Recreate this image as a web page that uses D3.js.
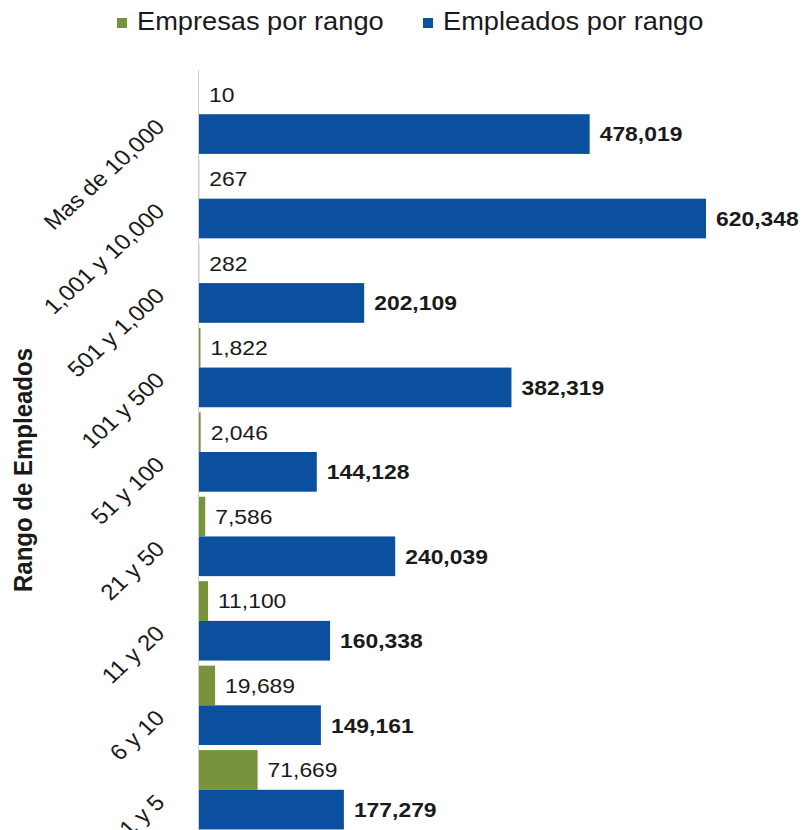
<!DOCTYPE html>
<html>
<head>
<meta charset="utf-8">
<script src="https://cdn.jsdelivr.net/npm/d3@7"></script>
<style>
  html, body { margin: 0; padding: 0; background: #fff; }
  svg { display: block; font-family: "Liberation Sans", Arial, sans-serif; }
</style>
</head>
<body>
<svg id="chart" width="804" height="830"></svg>
<script>
// Categories, top to bottom
const categories = ["Mas de 10,000", "1,001 y 10,000", "501 y 1,000", "101 y 500",
  "51 y 100", "21 y 50", "11 y 20", "6 y 10", "1 y 5"];
// Number of companies in each range
const empresas = [10, 267, 282, 1822, 2046, 7586, 11100, 19689, 71669];
// Number of employees in each range
const empleados = [478019, 620348, 202109, 382319, 144128, 240039, 160338, 149161, 177279];
const seriesNames = ["Empresas por rango", "Empleados por rango"];
const seriesColors = ["#77933C", "#0B4F9F"];

const svg = d3.select("#chart");
const SX = 1.09;           // slight horizontal widening of the typeface
const textColor = "#1a1a1a";

const x = d3.scaleLinear()
  .domain([0, d3.max(empleados)])
  .range([199, 706]);

const y = d3.scaleBand()
  .domain(categories)
  .range([72, 832])
  .paddingInner(0.06)
  .paddingOuter(0.03);

const inner = d3.scaleBand()
  .domain([0, 1])
  .range([0, y.bandwidth()])
  .padding(0);

const fmt = d3.format(",");

const rows = categories.map((c, i) => ({ cat: c, vals: [empresas[i], empleados[i]] }));

// Bars
const groups = svg.append("g").selectAll("g")
  .data(rows)
  .join("g")
  .attr("transform", d => `translate(0,${y(d.cat)})`);

groups.selectAll("rect")
  .data(d => d.vals.map((v, s) => ({ v, s })))
  .join("rect")
  .attr("x", x(0))
  .attr("y", d => inner(d.s))
  .attr("width", d => Math.max(0, x(d.v) - x(0)))
  .attr("height", inner.bandwidth())
  .attr("fill", d => seriesColors[d.s]);

// Value labels
groups.selectAll("text")
  .data(d => d.vals.map((v, s) => ({ v, s })))
  .join("text")
  .attr("transform", d => `translate(${x(d.v) + 10},${inner(d.s) + inner.bandwidth() / 2}) scale(${SX},1)`)
  .attr("dy", "0.35em")
  .attr("font-size", 21)
  .attr("font-weight", d => d.s === 1 ? "bold" : "normal")
  .attr("fill", textColor)
  .text(d => fmt(d.v));

// Category axis line
svg.append("line")
  .attr("x1", x(0) - 0.5).attr("x2", x(0) - 0.5)
  .attr("y1", 70).attr("y2", 830)
  .attr("stroke", "#d0d0d0")
  .attr("stroke-width", 1);

// Rotated category labels
svg.append("g").selectAll("text")
  .data(categories)
  .join("text")
  .attr("transform", d => `translate(166,${y(d) + y.bandwidth() / 2 + 14}) scale(${SX},1) rotate(-45)`)
  .attr("text-anchor", "end")
  .attr("font-size", 22)
  .attr("fill", textColor)
  .text(d => d);

// Axis title
svg.append("text")
  .attr("transform", `translate(32,470) scale(${SX},1) rotate(-90)`)
  .attr("text-anchor", "middle")
  .attr("font-size", 24)
  .attr("font-weight", "bold")
  .attr("fill", textColor)
  .text("Rango de Empleados");

// Legend
const legendX = [117, 423];
const legend = svg.append("g").selectAll("g")
  .data(seriesNames)
  .join("g")
  .attr("transform", (d, i) => `translate(${legendX[i]},0)`);

legend.append("rect")
  .attr("x", 0).attr("y", 18)
  .attr("width", 10).attr("height", 10)
  .attr("fill", (d, i) => seriesColors[i]);

legend.append("text")
  .attr("transform", `translate(20,30) scale(${SX},1)`)
  .attr("font-size", 25)
  .attr("fill", textColor)
  .text(d => d);
</script>
</body>
</html>
